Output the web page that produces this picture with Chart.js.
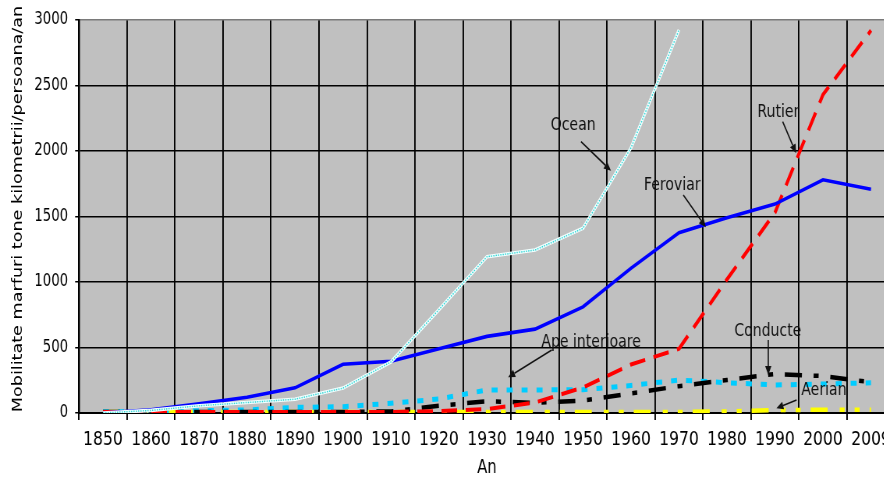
<!DOCTYPE html>
<html>
<head>
<meta charset="utf-8">
<script src="https://cdn.jsdelivr.net/npm/chart.js@4/dist/chart.umd.min.js"></script>
<style>
  html, body { margin: 0; padding: 0; background: #fff; overflow: hidden; width: 884px; height: 477px; }
  /* the chart is laid out wide and narrowed horizontally, giving the condensed lettering */
  #wrap { position: absolute; left: 0; top: 0; width: 1160px; height: 477px; transform: scaleX(0.78); transform-origin: 0 0; }
</style>
</head>
<body>
<div id="wrap"><canvas id="c" width="1160" height="477"></canvas></div>
<script>
// Freight mobility, tonne-kilometres per person per year, by transport mode
const years = ['1850', '1860', '1870', '1880', '1890', '1900', '1910', '1920', '1930',
               '1940', '1950', '1960', '1970', '1980', '1990', '2000', '2009'];

const ocean     = [0, 20, 55, 80, 105, 190, 390, 790, 1193, 1244, 1410, 2025, 2925, null, null, null, null];
const feroviar  = [0, 25, 70, 120, 192, 372, 395, 490, 585, 640, 810, 1105, 1376, 1490, 1595, 1780, 1708];
const rutier    = [8, 8, 8, 8, 8, 8, 8, 15, 30, 80, 195, 370, 490, 1020, 1530, 2430, 2920];
const conducte  = [8, 8, 8, 8, 8, 8, 12, 55, 90, 77, 95, 150, 205, 252, 298, 282, 235];
const apeInter  = [10, 10, 18, 23, 43, 48, 74, 107, 176, 176, 178, 210, 252, 231, 214, 221, 231];
const aerian    = [8, 8, 8, 8, 8, 8, 8, 8, 8, 8, 8, 8, 8, 12, 22, 25, 25];

const yTicks = { min: 0, max: 3000, step: 500 };

const yTitle = 'Mobilitate marfuri tone kilometrii/persoana/an';
const xTitle = 'An';

// callout labels: text anchor and arrow (category index, value)
const callouts = [
  { text: 'Ocean',          at: [9.795, 2198], from: [9.958, 2071], to: [10.583, 1850] },
  { text: 'Rutier',         at: [14.07, 2298], from: [14.16, 2224], to: [14.44, 1982] },
  { text: 'Feroviar',       at: [11.86, 1740], from: [12.09, 1664], to: [12.56, 1418] },
  { text: 'Ape interioare', at: [10.17, 542],  from: [9.35, 481],   to: [8.44, 273] },
  { text: 'Conducte',       at: [13.85, 626],  from: [13.86, 557],  to: [13.86, 290] },
  { text: 'Aerian',         at: [15.02, 176],  from: [14.45, 99],   to: [14.03, 36] }
];

const FONT = '"DejaVu Sans", Verdana, sans-serif';
const CANVAS_H = 477;
const AREA_LEFT = 101.3;   // width reserved for the value axis
const AREA_BOTTOM = 413;   // baseline of the plot

// grey plot background
const plotBackground = {
  id: 'plotBackground',
  beforeDraw(chart) {
    const { ctx, chartArea: a } = chart;
    ctx.save();
    ctx.fillStyle = '#C0C0C0';
    ctx.fillRect(a.left, a.top, a.right - a.left, a.bottom - a.top);
    ctx.restore();
  }
};

// rotated value-axis title
const valueAxisTitle = {
  id: 'valueAxisTitle',
  afterDraw(chart) {
    const { ctx } = chart;
    ctx.save();
    ctx.translate(23, 209);
    ctx.rotate(-Math.PI / 2);
    ctx.font = '17.6px ' + FONT;
    ctx.fillStyle = '#000';
    ctx.textAlign = 'center';
    ctx.textBaseline = 'middle';
    ctx.fillText(yTitle, 0, 0);
    ctx.restore();
  }
};

// series names with arrows pointing at their lines
const calloutPlugin = {
  id: 'callouts',
  afterDatasetsDraw(chart) {
    const { ctx, scales: { x, y } } = chart;
    const px = p => [x.getPixelForValue(p[0]), y.getPixelForValue(p[1])];
    ctx.save();
    ctx.fillStyle = '#111';
    ctx.strokeStyle = '#111';
    ctx.font = '18px ' + FONT;
    ctx.textAlign = 'center';
    ctx.textBaseline = 'middle';
    callouts.forEach(c => {
      const [tx, ty] = px(c.at);
      ctx.fillText(c.text, tx, ty);
      const [x0, y0] = px(c.from);
      const [x1, y1] = px(c.to);
      const ang = Math.atan2(y1 - y0, x1 - x0);
      const head = 9, half = 4;
      const bx = x1 - head * Math.cos(ang), by = y1 - head * Math.sin(ang);
      ctx.lineWidth = 1.6;
      ctx.beginPath();
      ctx.moveTo(x0, y0);
      ctx.lineTo(bx, by);
      ctx.stroke();
      ctx.beginPath();
      ctx.moveTo(x1, y1);
      ctx.lineTo(bx + half * Math.sin(ang), by - half * Math.cos(ang));
      ctx.lineTo(bx - half * Math.sin(ang), by + half * Math.cos(ang));
      ctx.closePath();
      ctx.fill();
    });
    ctx.restore();
  }
};

const line = (label, data, color, width, dash) => ({
  label, data,
  borderColor: color,
  backgroundColor: color,
  borderWidth: width,
  borderDash: dash || [],
  borderCapStyle: 'butt',
  pointRadius: 0,
  pointHoverRadius: 0,
  tension: 0,
  fill: false,
  spanGaps: false
});

new Chart(document.getElementById('c'), {
  type: 'line',
  data: {
    labels: years,
    datasets: [
      line('Ocean', ocean, '#33d6d6', 1.5, [1.5, 1.5]),
      line('Ocean', ocean, '#f2ffff', 3.6),
      line('Feroviar', feroviar, '#0000FF', 3.6),
      line('Rutier', rutier, '#FF0000', 4, [20, 11]),
      line('Conducte', conducte, '#000000', 4.5, [22, 15, 6.4, 15]),
      line('Ape interioare', apeInter, '#00CCFF', 5, [7.7, 11.5]),
      line('Aerian', aerian, '#FFFF00', 4.5, [21.8, 15.4, 6.4, 12.8, 6.4, 12.8])
    ]
  },
  options: {
    responsive: false,
    animation: false,
    devicePixelRatio: 1,
    layout: { padding: { top: 20, right: 12.6, bottom: 0, left: 0 } },
    plugins: {
      legend: { display: false },
      tooltip: { enabled: false }
    },
    scales: {
      x: {
        type: 'category',
        offset: true,
        ticks: {
          color: '#000',
          font: { family: FONT, size: 20 },
          padding: 8,
          autoSkip: false,
          maxRotation: 0,
          minRotation: 0
        },
        grid: { offset: true, color: '#000', tickColor: '#000', lineWidth: 1.9, tickLength: 7 },
        border: { display: true, color: '#000', width: 2 },
        title: {
          display: true, text: xTitle, color: '#000',
          font: { family: FONT, size: 19, lineHeight: 1 }, padding: { top: 0, bottom: -1 }
        },
        afterFit(s) { s.height = CANVAS_H - AREA_BOTTOM; }
      },
      y: {
        min: yTicks.min,
        max: yTicks.max,
        ticks: {
          stepSize: yTicks.step,
          color: '#000',
          font: { family: FONT, size: 17 },
          padding: 9,
          callback: v => String(v)
        },
        grid: {
          color: c => (c.tick && c.tick.value === yTicks.max) ? '#7a7a7a' : '#000',
          tickColor: '#000',
          lineWidth: 1.5,
          tickLength: 5
        },
        border: { display: true, color: '#000', width: 1.5 },
        afterFit(s) { s.width = AREA_LEFT; }
      }
    }
  },
  plugins: [plotBackground, valueAxisTitle, calloutPlugin]
});
</script>
</body>
</html>
